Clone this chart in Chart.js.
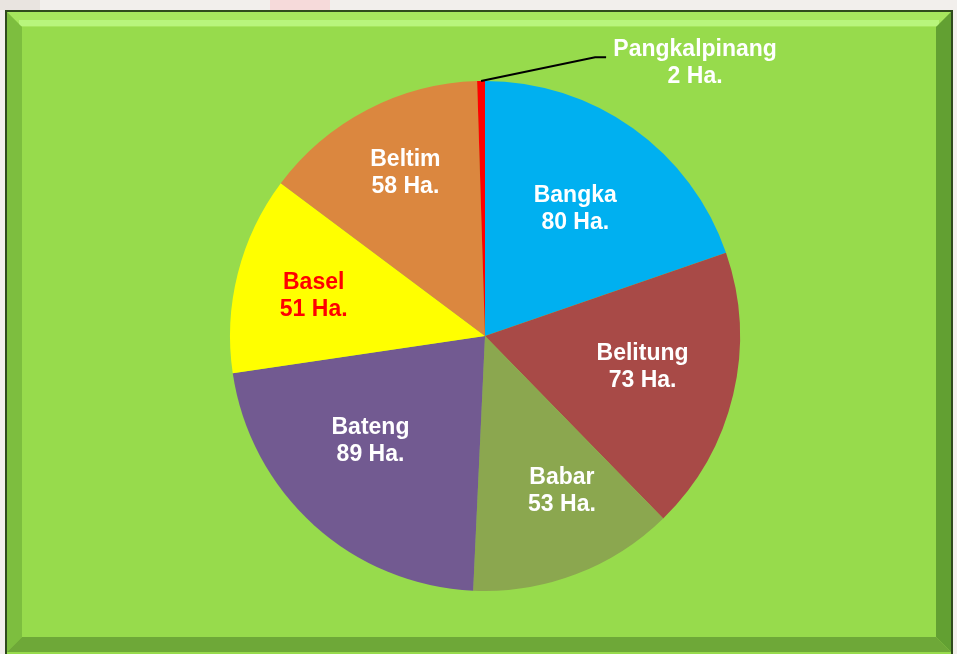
<!DOCTYPE html>
<html>
<head>
<meta charset="utf-8">
<script src="https://cdn.jsdelivr.net/npm/chart.js@4"></script>
<style>
  html, body { margin: 0; padding: 0; background: #f2efec; }
  canvas { display: block; }
</style>
</head>
<body>
<canvas id="c" width="957" height="654"></canvas>
<script>
const categories = ['Bangka', 'Belitung', 'Babar', 'Bateng', 'Basel', 'Beltim', 'Pangkalpinang'];
const areaHa = [80, 73, 53, 89, 51, 58, 2];
const unitLabel = 'Ha.';

const sliceColors = ['#00B0F0', '#A84A47', '#8BA74F', '#725A91', '#FFFF00', '#DB873F', '#FF0000'];
const labelColors = ['#FFFFFF', '#FFFFFF', '#FFFFFF', '#FFFFFF', '#FF0000', '#FFFFFF', '#FFFFFF'];
// label placement: [angle offset (deg), radius fraction]
const labelPlacement = [[0, 0.61], [-2, 0.63], [-5.5, 0.68], [5.3, 0.61], [-1, 0.69], [1.4, 0.71], [38.5, 1.35]];

const framePlugin = {
  id: 'frame',
  beforeDraw(chart) {
    const ctx = chart.ctx;
    ctx.save();
    ctx.fillStyle = '#f2efec';
    ctx.fillRect(0, 0, 957, 654);
    ctx.fillStyle = '#e9e4e0';
    ctx.fillRect(0, 0, 40, 10);
    ctx.fillStyle = '#f6dada';
    ctx.fillRect(270, 0, 60, 10);
    const x0 = 5, y0 = 10, x1 = 953, y1 = 654;
    ctx.fillStyle = '#2f4a1c';
    ctx.fillRect(x0, y0, x1 - x0, y1 - y0);
    ctx.fillStyle = '#97DB4C';
    ctx.fillRect(x0 + 2, y0 + 2, x1 - x0 - 4, y1 - y0 - 2);
    const b = 15;
    ctx.fillStyle = '#a6e65e';
    ctx.beginPath();
    ctx.moveTo(x0 + 2, y0 + 2); ctx.lineTo(x1 - 2, y0 + 2); ctx.lineTo(x1 - 2 - b, y0 + 2 + b); ctx.lineTo(x0 + 2 + b, y0 + 2 + b); ctx.closePath();
    ctx.fill();
    ctx.fillStyle = '#b8f57c';
    ctx.fillRect(x0 + 14, y0 + 10, x1 - x0 - 28, 6);
    ctx.fillStyle = '#7dbe3f';
    ctx.beginPath();
    ctx.moveTo(x0 + 2, y0 + 2); ctx.lineTo(x0 + 2 + b, y0 + 2 + b); ctx.lineTo(x0 + 2 + b, y1 - 2 - b); ctx.lineTo(x0 + 2, y1 - 2); ctx.closePath();
    ctx.fill();
    ctx.fillStyle = '#62a032';
    ctx.beginPath();
    ctx.moveTo(x1 - 2, y0 + 2); ctx.lineTo(x1 - 2 - b, y0 + 2 + b); ctx.lineTo(x1 - 2 - b, y1 - 2 - b); ctx.lineTo(x1 - 2, y1 - 2); ctx.closePath();
    ctx.fill();
    ctx.fillStyle = '#6ea838';
    ctx.beginPath();
    ctx.moveTo(x0 + 2, y1 - 2); ctx.lineTo(x0 + 2 + b, y1 - 2 - b); ctx.lineTo(x1 - 2 - b, y1 - 2 - b); ctx.lineTo(x1 - 2, y1 - 2); ctx.closePath();
    ctx.fill();
    ctx.fillStyle = '#97DB4C';
    ctx.fillRect(x0 + 2 + b, y0 + 2 + b, x1 - x0 - 4 - 2 * b, y1 - y0 - 4 - 2 * b);
    ctx.restore();
  }
};

const labelPlugin = {
  id: 'sliceLabels',
  afterDatasetsDraw(chart) {
    const ctx = chart.ctx;
    const meta = chart.getDatasetMeta(0);
    ctx.save();
    ctx.font = 'bold 23px "Liberation Sans", Arial, sans-serif';
    ctx.textAlign = 'center';
    ctx.textBaseline = 'middle';
    meta.data.forEach((arc, i) => {
      const p = arc.getProps(['x', 'y', 'startAngle', 'endAngle', 'outerRadius'], true);
      const mid = (p.startAngle + p.endAngle) / 2;
      const ang = mid + labelPlacement[i][0] * Math.PI / 180;
      const r = p.outerRadius * labelPlacement[i][1];
      const lx = p.x + Math.cos(ang) * r;
      const ly = p.y + Math.sin(ang) * r;
      if (labelPlacement[i][1] > 1) {
        const sx = p.x + Math.cos(mid) * p.outerRadius;
        const sy = p.y + Math.sin(mid) * p.outerRadius;
        ctx.strokeStyle = '#000000';
        ctx.lineWidth = 2;
        ctx.beginPath();
        ctx.moveTo(sx, sy);
        ctx.lineTo(lx - 100, ly - 6);
        ctx.lineTo(lx - 89, ly - 6);
        ctx.stroke();
      }
      ctx.fillStyle = labelColors[i];
      ctx.fillText(categories[i], lx, ly - 13.5);
      ctx.fillText(areaHa[i] + ' ' + unitLabel, lx, ly + 13.5);
    });
    ctx.restore();
  }
};

new Chart(document.getElementById('c'), {
  type: 'pie',
  data: {
    labels: categories,
    datasets: [{
      data: areaHa,
      backgroundColor: sliceColors,
      borderWidth: 0
    }]
  },
  options: {
    responsive: false,
    animation: false,
    layout: { padding: { left: 230, right: 217, top: 81, bottom: 63 } },
    plugins: {
      legend: { display: false },
      tooltip: { enabled: false },
      title: { display: false }
    }
  },
  plugins: [framePlugin, labelPlugin]
});
</script>
</body>
</html>
